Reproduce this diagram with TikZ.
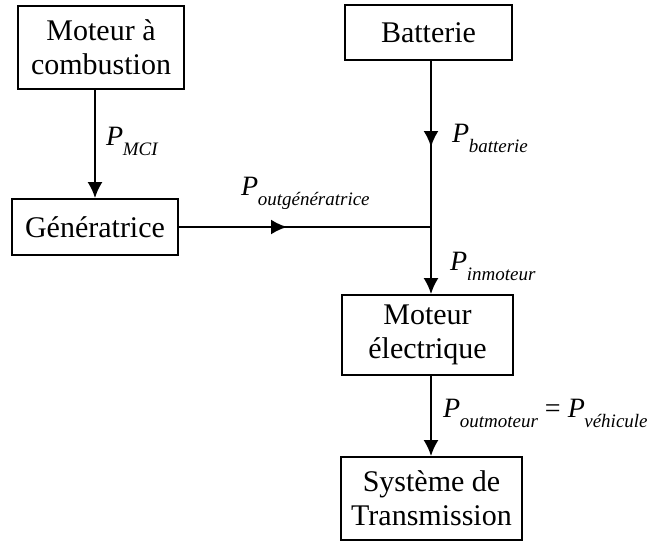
\documentclass[tikz,border=0pt]{standalone}
\usepackage{fontspec}
\setmainfont{Liberation Serif}
\usetikzlibrary{arrows.meta}
\newcommand{\Pw}[1]{\textit{P}\kern-0.5pt\raisebox{-10pt}{\fontsize{19}{19}\selectfont\textit{#1}}}
\tikzset{
  blk/.style={draw, line width=1.8pt, align=center, inner sep=0pt,
    font=\fontsize{30}{34}\selectfont},
  conn/.style={line width=2.2pt},
  arr/.style={conn, -{Latex[length=16pt,width=15pt]}},
  lbl/.style={anchor=base west, inner sep=0pt, font=\fontsize{28}{30}\selectfont}
}
\begin{document}
\begin{tikzpicture}[x=1pt,y=1pt]
\useasboundingbox (0,0) rectangle (653,-541);
\node[blk, minimum width=166pt, minimum height=83pt] (mci) at (101,-47.5) {Moteur à\\combustion};
\node[blk, minimum width=167pt, minimum height=55pt] (bat) at (428.5,-32.5) {Batterie};
\node[blk, minimum width=166pt, minimum height=56pt] (gen) at (95,-227) {Génératrice};
\node[blk, minimum width=171pt, minimum height=80pt] (mel) at (427.5,-335) {Moteur\\électrique};
\node[blk, minimum width=181pt, minimum height=83pt] (sys) at (431.5,-498.5) {Système de\\Transmission};
\coordinate (j) at (431,-227);
\coordinate (jb) at (431,-147);
\coordinate (jg) at (287,-227);
\draw[arr] (gen.north |- mci.south) -- (gen.north);
\draw[conn] (j |- bat.south) -- (j);
\draw[arr] (j |- bat.south) -- (jb);
\draw[conn] (gen.east) -- (j);
\draw[arr] (gen.east) -- (jg);
\draw[arr] (j) -- (j |- mel.north);
\draw[arr] (j |- mel.south) -- (j |- sys.north);
\node[lbl] (lmci) at (106,-145) {\Pw{MCI}};
\node[lbl] (lbat) at (452,-142) {\Pw{batterie}};
\node[lbl] (lgen) at (241,-195) {\Pw{outgénératrice}};
\node[lbl] (lin) at (450,-270) {\Pw{inmoteur}};
\node[lbl] (lout) at (443,-417) {\Pw{outmoteur} = \Pw{véhicule}};
\end{tikzpicture}
\end{document}
